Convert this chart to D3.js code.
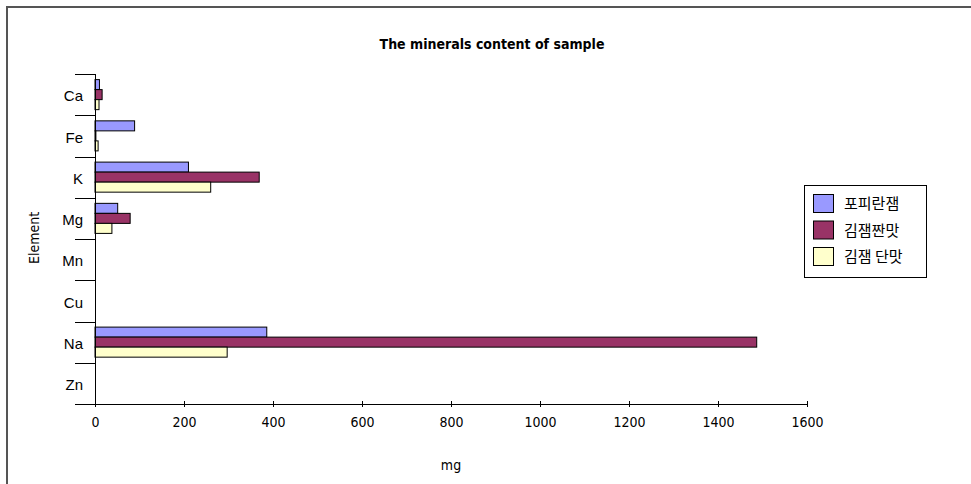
<!DOCTYPE html>
<html>
<head>
<meta charset="utf-8">
<script src="https://cdn.jsdelivr.net/npm/d3@7"></script>
<style>
  body { margin: 0; background: #fff; }
  svg { display: block; }
  .tick text { fill: #000; }
</style>
</head>
<body>
<svg></svg>
<script>
// minerals per sample, mg
var elements = ["Ca", "Fe", "K", "Mg", "Mn", "Cu", "Na", "Zn"]
var series = ["포피란잼", "김잼짠맛", "김잼 단맛"]
var porphyran = [10, 89, 210, 51, 0, 0, 386, 0]
var kimSalty = [16, 2, 369, 79, 0, 0, 1487, 0]
var kimSweet = [9, 7, 260, 38, 0, 0, 297, 0]
var xTicks = [0, 200, 400, 600, 800, 1000, 1200, 1400, 1600]
var colors = ["#9999ff", "#993366", "#ffffcc"]

function main(){
    var width = 971
    var height = 484
    var svg = d3.select('svg').attr("width", width).attr("height", height)

    var values = [porphyran, kimSalty, kimSweet]
    var data = elements.map((e,i) => ({
        name: e,
        vals: series.map((s,j) => ({series: s, value: values[j][i]}))
    }))

    // outer frame (only top and left visible)
    svg.append("rect")
        .attr("x", 7).attr("y", 7)
        .attr("width", width + 20).attr("height", height + 20)
        .attr("fill", "none")
        .attr("stroke", "#555")
        .attr("stroke-width", 2)

    var xScale = d3.scaleLinear().domain([0, 1600]).range([95, 807])
    var yScale = d3.scaleBand().domain(elements).range([74, 404]).padding(0)
    var inner = d3.scaleBand().domain(series)
                    .range([5.6, yScale.bandwidth() - 5.6])

    // bars
    var groups = svg.selectAll('.grp')
        .data(data)
        .join("g")
        .attr("class", "grp")
        .attr("transform", d => 'translate(0,' + yScale(d.name) + ')')

    groups.selectAll('rect')
        .data(d => d.vals)
        .join("rect")
        .attr("x", xScale(0))
        .attr("y", d => inner(d.series))
        .attr("width", d => xScale(d.value) - xScale(0))
        .attr("height", inner.bandwidth())
        .style("fill", (d,i) => colors[i])
        .style("stroke", d => d.value > 0 ? "#000" : "none")
        .style("stroke-width", 1)

    // x axis
    var xAxis = d3.axisBottom(xScale).tickValues(xTicks).tickFormat(d3.format("d"))
                    .tickSizeInner(3).tickSizeOuter(0).tickPadding(10)
    var gx = svg.append("g")
        .attr("class", "axis xAxis")
        .attr("transform", 'translate(0, 404)')
        .call(xAxis)
    gx.select(".domain").remove()
    gx.selectAll(".tick line").attr("y1", -3).attr("stroke", "#000")
    gx.selectAll(".tick text")
        .style("font-family", "'DejaVu Sans Condensed', 'Liberation Sans Narrow', sans-serif")
        .style("font-size", "14px")
    gx.append("line")
        .attr("x1", 75).attr("x2", xScale(1600))
        .attr("y1", 0.5).attr("y2", 0.5)
        .attr("stroke", "#000")

    // y axis
    var yAxis = d3.axisLeft(yScale).tickSize(0).tickPadding(12)
    var gy = svg.append("g")
        .attr("class", "axis yAxis")
        .attr("transform", 'translate(95, 0)')
        .call(yAxis)
    gy.select(".domain").remove()
    gy.selectAll(".tick text")
        .attr("dy", "0.45em")
        .style("font-family", "'Liberation Sans', Arial, sans-serif")
        .style("font-size", "15px")
    gy.append("line")
        .attr("x1", 0.5).attr("x2", 0.5)
        .attr("y1", 74).attr("y2", 404)
        .attr("stroke", "#000")
    gy.selectAll(".sep")
        .data(elements)
        .join("line")
        .attr("class", "sep")
        .attr("x1", -20).attr("x2", 0)
        .attr("y1", d => Math.round(yScale(d)) + 0.5)
        .attr("y2", d => Math.round(yScale(d)) + 0.5)
        .attr("stroke", "#000")

    // title and axis titles
    svg.append("text")
        .attr("x", 492).attr("y", 49)
        .attr("text-anchor", "middle")
        .style("font-family", "'DejaVu Sans Condensed', sans-serif")
        .style("font-weight", "bold")
        .style("font-size", "14px")
        .text("The minerals content of sample")

    svg.append("text")
        .attr("x", xScale(800)).attr("y", 470)
        .attr("text-anchor", "middle")
        .style("font-family", "'DejaVu Sans Condensed', sans-serif")
        .style("font-size", "14px")
        .text("mg")

    svg.append("text")
        .attr("transform", 'translate(39, 238) rotate(-90)')
        .attr("text-anchor", "middle")
        .style("font-family", "'DejaVu Sans Condensed', sans-serif")
        .style("font-size", "14px")
        .text("Element")

    // legend
    var legend = svg.append("g").attr("transform", 'translate(804, 185)')
    legend.append("rect")
        .attr("x", 0.5).attr("y", 0.5)
        .attr("width", 122).attr("height", 92)
        .attr("fill", "#fff").attr("stroke", "#000")
    var items = legend.selectAll(".item")
        .data(series)
        .join("g")
        .attr("class", "item")
        .attr("transform", (d,i) => 'translate(0,' + (9 + i * 26.5) + ')')
    items.append("rect")
        .attr("x", 9.5).attr("y", 0.5)
        .attr("width", 20).attr("height", 18)
        .style("fill", (d,i) => colors[i])
        .style("stroke", "#000")
    items.append("text")
        .attr("x", 40).attr("y", 15)
        .style("font-family", "'Noto Sans CJK KR', sans-serif")
        .style("font-size", "15px")
        .text(d => d)
}
main()
</script>
</body>
</html>
